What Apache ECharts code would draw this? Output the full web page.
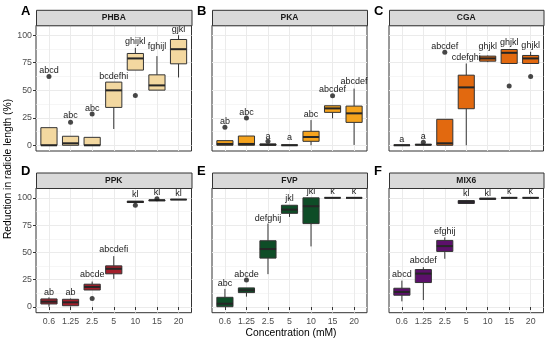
<!DOCTYPE html>
<html>
<head>
<meta charset="utf-8">
<script src="https://cdn.jsdelivr.net/npm/echarts@6/dist/echarts.min.js"></script>
<style>html,body{margin:0;padding:0;background:#fff;}#c{width:550px;height:342px;}</style>
</head>
<body>
<div id="c"></div>
<script>
// ---------- data ----------
const concentrations = ['0.6', '1.25', '2.5', '5', '10', '15', '20'];
const panelNames = ['PHBA', 'PKA', 'CGA', 'PPK', 'FVP', 'MIX6'];
const panelLetters = ['A', 'B', 'C', 'D', 'E', 'F'];
const yTicks = [0, 25, 50, 75, 100];
const yMinorTicks = [12.5, 37.5, 62.5, 87.5];

// box stats per concentration: [min, q1, median, q3, max]
const phbaBox = [[0, 0, 0, 16, 16], [0, 0, 1.8, 8.2, 8.2], [0, 0, 0, 7.2, 7.2], [14.8, 34.4, 49.9, 57.4, 57.4], [68.3, 68.3, 78.9, 83.4, 88.5], [50.1, 50.1, 54.4, 64, 81], [61.6, 74, 87.3, 96.1, 100]];
const pkaBox = [[0, 0, 1.2, 4.2, 4.2], [0, 0, 1.2, 8.4, 8.4], [0, 0, 0.5, 1.2, 1.2], [0, 0, 0, 0.4, 0.4], [0, 3.6, 7.5, 12.7, 22.9], [24.5, 29.9, 33.5, 35.9, 35.9], [0.3, 20.8, 29, 35.6, 51.5]];
const cgaBox = [[0, 0, 0, 0.3, 0.3], [0, 0.2, 0.5, 0.8, 0.8], [0, 0, 1.8, 23.6, 23.6], [0, 33.2, 52.6, 63.7, 74.3], [75.5, 76.4, 78.9, 81, 81.5], [74.3, 74.3, 84, 87, 87], [74.3, 74.3, 78.9, 81.6, 84.9]];
const ppkBox = [[0.3, 2.8, 4.9, 7.4, 8.9], [0.5, 1.2, 4.3, 7.1, 7.8], [15.6, 15.6, 18.4, 20.9, 23.3], [25.8, 30.4, 35, 37.7, 46.6], [95.7, 95.7, 96.3, 96.9, 96.9], [97.3, 97.3, 97.8, 98, 98], [98.4, 98.4, 98.4, 98.5, 98.5]];
const fvpBox = [[0.3, 0.3, 3, 8.9, 16.6], [9.5, 13.2, 15.4, 17.5, 17.5], [30.1, 44.8, 53.1, 60.7, 76.4], [82.5, 85.8, 89.2, 93.2, 93.2], [55.5, 76.4, 92.3, 100, 100], [100, 100, 100, 100, 100], [100, 100, 100, 100, 100]];
const mix6Box = [[5.2, 10.8, 13.8, 17.2, 24.2], [6.4, 22.4, 30.6, 34.3, 36.5], [44.2, 50.9, 55.8, 61, 63.8], [94.8, 94.8, 96.3, 97.5, 97.5], [98.6, 98.6, 99.2, 99.5, 99.5], [100, 100, 100, 100, 100], [100, 100, 100, 100, 100]];

// outliers: [concentration index (1-based), value]
const phbaOut = [[1, 62.5], [2, 21], [3, 28.4], [5, 45.3]];
const pkaOut = [[1, 16.3], [2, 24.8], [3, 3.6], [6, 45]];
const cgaOut = [[2, 2.7], [3, 84.6], [6, 53.8], [7, 62.5]];
const ppkOut = [[3, 7.7], [5, 93.2], [6, 99.1]];
const fvpOut = [[2, 24.8]];
const mix6Out = [];

// significance letters and their heights
const phbaLetters = ['abcd', 'abc', 'abc', 'bcdefhi', 'ghijkl', 'fghijl', 'gjkl'];
const phbaLetterY = [67.6, 26.6, 33.5, 62.8, 94, 89.4, 105];
const pkaLetters = ['ab', 'abc', 'a', 'a', 'abc', 'abcdef', 'abcdef'];
const pkaLetterY = [21.8, 29.6, 8.4, 7.2, 28.4, 50.8, 58.3];
const cgaLetters = ['a', 'a', 'abcdef', 'cdefghi', 'ghjkl', 'ghjkl', 'ghjkl'];
const cgaLetterY = [4.8, 7.8, 90, 79.4, 89.4, 93.6, 91];
const ppkLetters = ['ab', 'ab', 'abcde', 'abcdefi', 'kl', 'kl', 'kl'];
const ppkLetterY = [13.2, 13.2, 29.4, 52.4, 103.3, 104.6, 104];
const fvpLetters = ['abc', 'abcde', 'defghij', 'jkl', 'jkl', 'k', 'k'];
const fvpLetterY = [21.8, 30, 81.2, 99.1, 105.5, 105.5, 105.5];
const mix6Letters = ['abcd', 'abcdef', 'efghij', 'kl', 'kl', 'k', 'k'];
const mix6LetterY = [29.7, 42.3, 69.3, 104, 104, 105.5, 105.5];

// ---------- styling / layout ----------
const fills = ['#F3D8A0', '#F5A31D', '#E2690F', '#A31F2B', '#0E4D27', '#5C106B'];
const boxes = [phbaBox, pkaBox, cgaBox, ppkBox, fvpBox, mix6Box];
const outs = [phbaOut, pkaOut, cgaOut, ppkOut, fvpOut, mix6Out];
const letters = [phbaLetters, pkaLetters, cgaLetters, ppkLetters, fvpLetters, mix6Letters];
const letterY = [phbaLetterY, pkaLetterY, cgaLetterY, ppkLetterY, fvpLetterY, mix6LetterY];

const FONT = '"Liberation Sans", Arial, Helvetica, sans-serif';
const colLeft = [36, 212, 389];
const colWidth = [155.5, 155, 154.5];
const rowTop = [25.3, 188];
const rowHeight = [125.7, 124.7];
const stripH = 15.5;
const Y_MIN = -5.2, Y_MAX = 109;

const grids = [], xAxes = [], yAxes = [], series = [], graphics = [];

for (let p = 0; p < 6; p++) {
  const r = Math.floor(p / 3), c = p % 3;
  const left = colLeft[c], top = rowTop[r], w = colWidth[c], h = rowHeight[r];
  grids.push({ left, top, width: w, height: h, show: true, backgroundColor: '#fff', borderColor: '#333', borderWidth: 1, containLabel: false });
  const showX = r === 1, showY = c === 0;
  xAxes.push({
    type: 'value', gridIndex: p, min: 0.4, max: 7.6,
    axisLine: { show: false },
    axisTick: { show: showX, customValues: [1, 2, 3, 4, 5, 6, 7], length: 3, lineStyle: { color: '#333', width: 1 } },
    axisLabel: { show: showX, customValues: [1, 2, 3, 4, 5, 6, 7], formatter: v => concentrations[Math.round(v) - 1], color: '#4d4d4d', fontSize: 8.8, fontFamily: FONT, margin: 4.5 },
    splitLine: { show: true, lineStyle: { color: '#ebebeb', width: 1 } }
  });
  const xi = xAxes.length - 1;
  yAxes.push({
    type: 'value', gridIndex: p, min: Y_MIN, max: Y_MAX,
    axisLine: { show: false },
    axisTick: { show: showY, customValues: yTicks, length: 3, lineStyle: { color: '#333', width: 1 } },
    axisLabel: { show: showY, customValues: yTicks, color: '#4d4d4d', fontSize: 8.8, fontFamily: FONT, margin: 4 },
    splitLine: { show: true, lineStyle: { color: '#ebebeb', width: 1 } }
  });
  const yi = yAxes.length - 1;
  // minor grid axis
  yAxes.push({
    type: 'value', gridIndex: p, min: Y_MIN, max: Y_MAX, position: 'left',
    axisLine: { show: false },
    axisTick: { show: false, customValues: yMinorTicks },
    axisLabel: { show: false, customValues: yMinorTicks },
    splitLine: { show: true, lineStyle: { color: '#f0f0f0', width: 0.6 } }
  });

  const fill = fills[p];
  series.push({
    type: 'custom', xAxisIndex: xi, yAxisIndex: yi, clip: false, z: 3,
    data: boxes[p].map((b, i) => [i + 1].concat(b)),
    encode: { x: 0, y: [1, 2, 3, 4, 5] },
    renderItem: function (params, api) {
      const x = api.value(0);
      const lo = api.coord([x, api.value(1)]);
      const q1 = api.coord([x, api.value(2)]);
      const md = api.coord([x, api.value(3)]);
      const q3 = api.coord([x, api.value(4)]);
      const hi = api.coord([x, api.value(5)]);
      const half = api.size([0.75, 0])[0] / 2;
      const cx = q1[0];
      const stroke = '#333';
      return {
        type: 'group',
        children: [
          { type: 'line', shape: { x1: cx, y1: lo[1], x2: cx, y2: q1[1] }, style: { stroke, lineWidth: 1 } },
          { type: 'line', shape: { x1: cx, y1: q3[1], x2: cx, y2: hi[1] }, style: { stroke, lineWidth: 1 } },
          { type: 'rect', shape: { x: cx - half, y: q3[1], width: half * 2, height: Math.max(q1[1] - q3[1], 0) }, style: { fill, stroke, lineWidth: 1 } },
          { type: 'line', shape: { x1: cx - half, y1: md[1], x2: cx + half, y2: md[1] }, style: { stroke: '#262626', lineWidth: 2 } }
        ]
      };
    }
  });
  series.push({
    type: 'scatter', xAxisIndex: xi, yAxisIndex: yi, z: 4,
    data: outs[p], symbolSize: 5, itemStyle: { color: '#1a1a1a' }, silent: true
  });
  series.push({
    type: 'custom', xAxisIndex: xi, yAxisIndex: yi, clip: false, z: 5,
    data: letters[p].map((t, i) => [i + 1, letterY[p][i], t]),
    encode: { x: 0, y: 1 },
    renderItem: function (params, api) {
      const pt = api.coord([api.value(0), api.value(1)]);
      return {
        type: 'text', x: pt[0], y: pt[1],
        style: { text: letters[p][params.dataIndex], align: 'center', verticalAlign: 'middle', fontSize: 9, fontFamily: FONT, fill: '#1a1a1a' }
      };
    }
  });

  // strip header
  graphics.push({
    type: 'rect', left: left, top: top - stripH, shape: { x: 0, y: 0, width: w, height: stripH },
    style: { fill: '#d9d9d9', stroke: '#333', lineWidth: 1 }, z: 10
  });
  graphics.push({
    type: 'text', x: left + w / 2, y: top - stripH / 2 + 0.5,
    style: { text: panelNames[p], align: 'center', verticalAlign: 'middle', fontSize: 8.5, fontWeight: 'bold', fontFamily: FONT, fill: '#1a1a1a' }, z: 11
  });
  // panel letter
  graphics.push({
    type: 'text', x: left - 15, y: top - stripH + (r === 0 ? 1.3 : -0.8),
    style: { text: panelLetters[p], align: 'left', verticalAlign: 'middle', fontSize: 13, fontWeight: 'bold', fontFamily: FONT, fill: '#000' }, z: 11
  });
}

// axis titles
graphics.push({
  type: 'text', x: 8, y: 169, rotation: Math.PI / 2,
  style: { text: 'Reduction in radicle length (%)', align: 'center', verticalAlign: 'middle', fontSize: 10.3, fontFamily: FONT, fill: '#000' }
});
graphics.push({
  type: 'text', x: 291, y: 333,
  style: { text: 'Concentration (mM)', align: 'center', verticalAlign: 'middle', fontSize: 10.3, fontFamily: FONT, fill: '#000' }
});

const chart = echarts.init(document.getElementById('c'), null, { renderer: 'canvas' });
chart.setOption({
  animation: false,
  backgroundColor: '#fff',
  grid: grids, xAxis: xAxes, yAxis: yAxes, series: series,
  graphic: { elements: graphics }
});
</script>
</body>
</html>
